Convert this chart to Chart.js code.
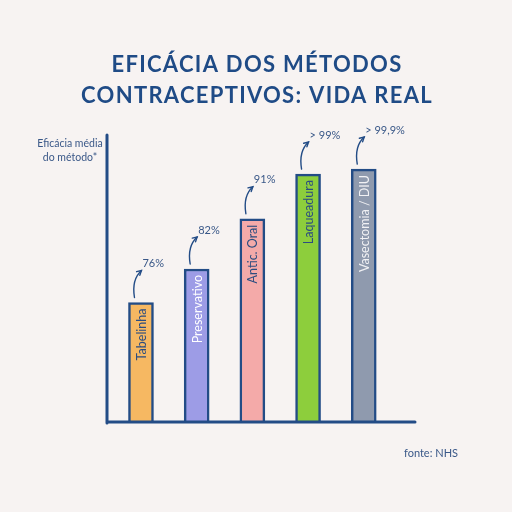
<!DOCTYPE html>
<html>
<head>
<meta charset="utf-8">
<script src="https://cdn.jsdelivr.net/npm/chart.js@4/dist/chart.umd.min.js"></script>
<style>
  html, body { margin:0; padding:0; background:#f7f3f2; }
  #wrap { width:512px; height:512px; }
</style>
</head>
<body>
<div id="wrap"><canvas id="chart" width="512" height="512"></canvas></div>
<script>
// ===== data =====
const categories = ['Tabelinha', 'Preservativo', 'Antic. Oral', 'Laqueadura', 'Vasectomia / DIU'];
const efficacy = [76, 82, 91, 99, 99.9];
const valueLabels = ['76%', '82%', '91%', '> 99%', '> 99,9%'];
const titleLines = ['EFICÁCIA DOS MÉTODOS', 'CONTRACEPTIVOS: VIDA REAL'];
const axisCaption = ['Eficácia média', 'do método*'];
const sourceText = 'fonte: NHS';

const barColors = ['#f6b862', '#9d9ce6', '#f4aaa9', '#8dce3c', '#8f9aae'];
const barTextColors = ['#2c4d80', '#ffffff', '#2c4d80', '#2c4d80', '#f1f1f4'];
const ink = '#234c86';
const textInk = '#3a5888';

// hand drawn look: axes, labels, arrows
const decorPlugin = {
  id: 'decor',
  afterDatasetsDraw(chart) {
    const ctx = chart.ctx;
    const area = chart.chartArea;
    const meta = chart.getDatasetMeta(0);

    meta.data.forEach((bar, i) => {
      const p = bar.getProps(['x', 'y', 'width'], true);
      const left = p.x - p.width / 2;

      // name inside the bar
      ctx.save();
      ctx.translate(p.x, p.y + 6);
      ctx.rotate(-Math.PI / 2);
      ctx.font = '12.5px Lato';
      ctx.fillStyle = barTextColors[i];
      ctx.textAlign = 'right';
      ctx.textBaseline = 'middle';
      ctx.fillText(categories[i], 0, 1);
      ctx.restore();

      // curved arrow
      const sx = left + 6, sy = p.y - 5;
      const ex = left + 13, ey = p.y - 32;
      const cx = sx - 3, cy = ey + 9;
      ctx.save();
      ctx.strokeStyle = ink;
      ctx.lineWidth = 1.4;
      ctx.lineCap = 'round';
      ctx.beginPath();
      ctx.moveTo(sx, sy);
      ctx.quadraticCurveTo(cx, cy, ex, ey);
      ctx.stroke();
      const ang = Math.atan2(ey - cy, ex - cx);
      ctx.beginPath();
      ctx.moveTo(ex - 5 * Math.cos(ang - 0.5), ey - 5 * Math.sin(ang - 0.5));
      ctx.lineTo(ex, ey);
      ctx.lineTo(ex - 5 * Math.cos(ang + 0.5), ey - 5 * Math.sin(ang + 0.5));
      ctx.stroke();
      ctx.restore();

      // value label
      ctx.save();
      ctx.font = '11px Lato';
      ctx.fillStyle = textInk;
      ctx.textAlign = 'left';
      ctx.textBaseline = 'middle';
      ctx.fillText(valueLabels[i], ex + 1, ey - 7);
      ctx.restore();
    });

    // axes
    ctx.save();
    ctx.strokeStyle = ink;
    ctx.lineWidth = 3;
    ctx.lineCap = 'round';
    ctx.beginPath();
    ctx.moveTo(area.left, area.top);
    ctx.lineTo(area.left, area.bottom + 1);
    ctx.moveTo(area.left, area.bottom);
    ctx.lineTo(area.right, area.bottom);
    ctx.stroke();
    ctx.restore();

    // axis caption
    ctx.save();
    ctx.font = '10.5px Lato';
    ctx.fillStyle = textInk;
    ctx.textAlign = 'center';
    ctx.textBaseline = 'middle';
    ctx.fillText(axisCaption[0], area.left - 37, area.top + 9);
    ctx.fillText(axisCaption[1], area.left - 37, area.top + 23);
    ctx.restore();

    // source
    ctx.save();
    ctx.font = '11px Lato';
    ctx.fillStyle = textInk;
    ctx.textAlign = 'right';
    ctx.textBaseline = 'middle';
    ctx.fillText(sourceText, area.right + 43, area.bottom + 31);
    ctx.restore();

    // title
    ctx.save();
    ctx.font = 'bold 22px Lato';
    ctx.fillStyle = '#1f4b86';
    ctx.textAlign = 'center';
    ctx.textBaseline = 'middle';
    if ('letterSpacing' in ctx) ctx.letterSpacing = '1.3px';
    ctx.fillText(titleLines[0], chart.width / 2 + 1, 65);
    ctx.fillText(titleLines[1], chart.width / 2 + 1, 96);
    ctx.restore();
  }
};

const ctxChart = document.getElementById('chart').getContext('2d');
const chart = new Chart(ctxChart, {
  type: 'bar',
  data: {
    datasets: [{
      data: efficacy.map((v, i) => ({ x: i, y: v })),
      backgroundColor: barColors,
      borderColor: ink,
      borderWidth: 2.5,
      borderSkipped: false,
      barThickness: 25
    }]
  },
  options: {
    responsive: false,
    animation: false,
    devicePixelRatio: 1,
    layout: { padding: { left: 107, right: 97, top: 135, bottom: 90 } },
    scales: {
      x: { type: 'linear', offset: false, min: -0.61, max: 4.92, display: false },
      y: { min: 54.6, max: 106, display: false }
    },
    plugins: { legend: { display: false }, tooltip: { enabled: false } }
  },
  plugins: [decorPlugin]
});
</script>
</body>
</html>
